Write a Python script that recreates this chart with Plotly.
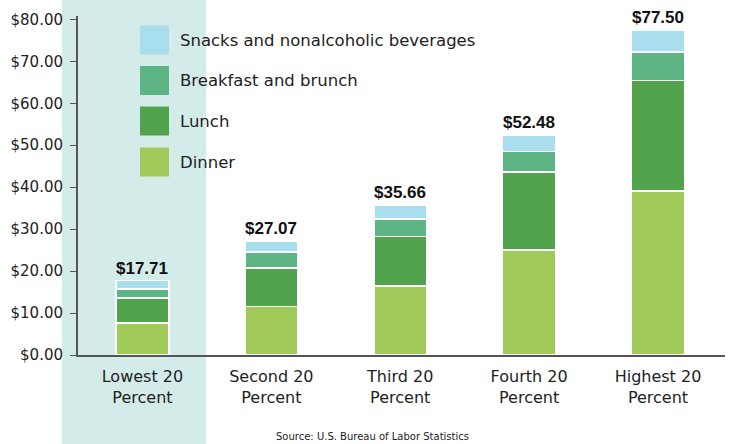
import plotly.graph_objects as go

# Daily food-away-from-home spending by income quintile
categories = ["Lowest 20<br>Percent", "Second 20<br>Percent", "Third 20<br>Percent",
              "Fourth 20<br>Percent", "Highest 20<br>Percent"]
totals = [17.71, 27.07, 35.66, 52.48, 77.50]
dinner = [7.57, 11.53, 16.47, 25.06, 39.10]
lunch = [5.96, 9.17, 11.77, 18.54, 26.30]
breakfast = [2.15, 3.80, 4.15, 4.90, 6.80]
# snacks make up the remainder of each total
snacks = [round(t - d - l - b, 2) for t, d, l, b in zip(totals, dinner, lunch, breakfast)]

series_names = ["Dinner", "Lunch", "Breakfast and brunch", "Snacks and nonalcoholic beverages"]
series_values = [dinner, lunch, breakfast, snacks]
series_colors = ["#A0CB5A", "#52A44C", "#5DB583", "#A8DEEE"]

y_ticks = [0, 10, 20, 30, 40, 50, 60, 70, 80]
y_tick_labels = ["$%.2f" % v for v in y_ticks]

FONT = "DejaVu Sans"
TEXT = "#222222"

fig = go.Figure()
for name, vals, col in zip(series_names, series_values, series_colors):
    fig.add_trace(go.Bar(
        x=categories, y=vals, name=name,
        marker=dict(color=col, line=dict(color="white", width=1.5)),
        showlegend=False, hoverinfo="y+name",
    ))

# total labels above each stack
for cat, tot in zip(categories, totals):
    fig.add_annotation(
        x=cat, y=tot, text="<b>$%.2f</b>" % tot, showarrow=False,
        yanchor="bottom", yshift=1,
        font=dict(family="Liberation Sans", size=17, color="#111111"),
    )

W, H = 733, 444
ml, mr, mt, mb = 78, 8, 16, 89
pw, ph = W - ml - mr, H - mt - mb

# highlight band behind the lowest quintile
fig.add_shape(type="rect", xref="paper", yref="paper",
              x0=(62 - ml) / pw, x1=(206 - ml) / pw, y0=-0.3, y1=1.1,
              fillcolor="#D4ECE9", line=dict(width=0), layer="below")

# legend drawn as swatches with labels (top to bottom)
legend_order = [3, 2, 1, 0]
swatch_x0, swatch_x1 = 140, 169
legend_y = [40, 80.5, 121, 162]
for idx, yc in zip(legend_order, legend_y):
    fig.add_shape(type="rect", xref="paper", yref="paper",
                  x0=(swatch_x0 - ml) / pw, x1=(swatch_x1 - ml) / pw,
                  y0=1 - (yc + 14.5 - mt) / ph, y1=1 - (yc - 14.5 - mt) / ph,
                  fillcolor=series_colors[idx], line=dict(width=0))
    fig.add_annotation(xref="paper", yref="paper", x=(178 - ml) / pw, y=1 - (yc - mt) / ph,
                       text=series_names[idx], showarrow=False, xanchor="left", yanchor="middle",
                       font=dict(family=FONT, size=16.5, color=TEXT))

fig.add_annotation(xref="paper", yref="paper", x=(372 - ml) / pw, y=1 - (436 - mt) / ph,
                   text="Source: U.S. Bureau of Labor Statistics", showarrow=False,
                   xanchor="center", yanchor="middle",
                   font=dict(family=FONT, size=10, color=TEXT))

fig.update_layout(
    width=W, height=H,
    margin=dict(l=ml, r=mr, t=mt, b=mb),
    barmode="stack", bargap=0.59,
    plot_bgcolor="rgba(0,0,0,0)", paper_bgcolor="white",
    font=dict(family=FONT, size=15, color=TEXT),
    xaxis=dict(showline=True, linecolor="#555555", linewidth=2, ticks="",
               showgrid=False, tickfont=dict(family=FONT, size=16, color=TEXT),
               ticklabelstandoff=6, range=[-0.5, 4.52]),
    yaxis=dict(range=[0, 80.8], tickvals=y_ticks, ticktext=y_tick_labels,
               showline=True, linecolor="#555555", linewidth=2, ticks="outside",
               ticklen=6, tickcolor="#555555", showgrid=False, zeroline=False,
               ticklabelstandoff=4,
               tickfont=dict(family=FONT, size=15, color=TEXT)),
)

fig.write_html("out.html")
